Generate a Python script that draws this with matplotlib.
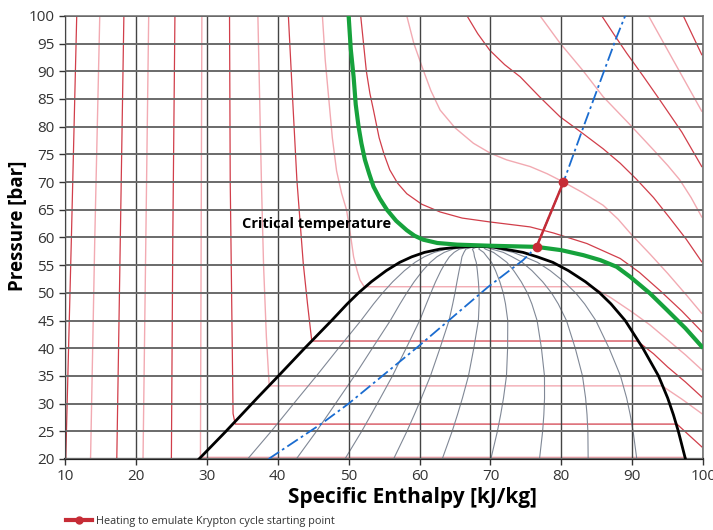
import numpy as np
import matplotlib.pyplot as plt
from matplotlib.lines import Line2D

plt.rcParams['font.family'] = ['Open Sans', 'DejaVu Sans']

# -----------------------------------------------------------------------------
# Saturation dome
# -----------------------------------------------------------------------------
p_sat = [20, 25, 28, 31, 35, 40, 45, 48, 50, 52, 54, 55.5, 56.5, 57.3, 57.9, 58.25, 58.4]
h_liq = [28.9, 32.7, 34.9, 37.1, 40.1, 43.8, 47.6, 49.8, 51.4, 53.2, 55.3, 57.2,
         58.9, 60.7, 62.9, 65.5, 68.0]
h_vap = [97.5, 96.5, 95.8, 95.0, 93.7, 91.5, 89.0, 87.0, 85.4, 83.4, 81.0, 78.8,
         76.6, 74.6, 72.0, 70.5, 68.0]
quality_levels = [0.1, 0.2, 0.3, 0.4, 0.5, 0.6, 0.7, 0.8, 0.9]

# -----------------------------------------------------------------------------
# Isotherms as (h, P) pairs, alternating dark / light red
# -----------------------------------------------------------------------------
iso_01 = [(11.65, 100), (10.9, 60), (10.1, 20)]
iso_02 = [(14.9, 100), (14.2, 60), (13.6, 20)]
iso_03 = [(18.3, 100), (17.8, 60), (17.3, 20)]
iso_04 = [(21.8, 100), (21.4, 60), (21.0, 20)]
iso_05 = [(25.5, 100), (25.2, 60), (25.0, 20)]
iso_06 = [(29.3, 100), (29.2, 60), (29.1, 20.3), (97.5, 20.3), (98.2, 19.5)]
iso_07 = [(33.2, 100), (33.3, 70), (33.7, 28.2), (34.0, 26.3), (96.3, 26.3),
          (98.0, 24.3), (99.8, 22.2)]
iso_08 = [(37.2, 100), (37.7, 70), (38.0, 55), (38.4, 42), (38.8, 33.2),
          (94.2, 33.2), (97.0, 30.8), (99.8, 28.2)]
iso_09 = [(41.5, 100), (42.1, 85), (42.7, 70.4), (43.2, 62), (43.6, 55.3),
          (44.2, 48), (44.8, 41.3), (90.7, 41.3), (93.0, 39.0), (95.0, 36.6),
          (97.5, 33.9), (99.8, 31.2)]
iso_10 = [(46.3, 100), (46.7, 92), (47.2, 85), (47.7, 78), (48.3, 72), (49.0, 68),
          (49.7, 65), (50.2, 61), (50.7, 56.5), (51.2, 54), (51.6, 52.3), (52.2, 51.1),
          (84.3, 51.1), (87.0, 49.1), (89.9, 46.6), (92.5, 44.2), (95.0, 41.5),
          (97.5, 38.8), (99.8, 36.1)]
iso_s1 = [(51.7, 100), (52.1, 95), (52.5, 90), (53.0, 86), (53.5, 83), (54.3, 78),
          (55.0, 75), (55.8, 72.2), (56.9, 69.8), (58.2, 67.9), (60.3, 66),
          (62.9, 64.6), (66.0, 63.5), (69.9, 62.8), (75.6, 61.9), (78.9, 60.8),
          (83.6, 58.9), (88.3, 56.2), (91.0, 53.7), (94.0, 50.3), (97.0, 46.7),
          (99.8, 43.0)]
iso_s2 = [(58.2, 100), (59.2, 95), (60.5, 90.3), (61.6, 86.5), (62.9, 83),
          (65.0, 79.8), (67.6, 77), (70.0, 75.2), (72.3, 74), (75.6, 72.8),
          (78.0, 71.5), (80.3, 70.0), (83.0, 68.1), (85.9, 65.8), (88.0, 63.3),
          (89.9, 60.5), (92.5, 57.0), (95.0, 53.5), (97.5, 49.8), (99.8, 46.3)]
iso_s3 = [(66.7, 100), (68.2, 96.8), (69.9, 93.8), (72.0, 91.2), (74.2, 89),
          (77.0, 85.3), (79.8, 81.8), (83.0, 78.8), (85.9, 76), (88.3, 73.4),
          (90.6, 70.5), (93.0, 67.2), (95.3, 63.5), (97.6, 59.7), (99.8, 55.6)]
iso_s4 = [(77.0, 100), (79.8, 95.1), (83.0, 90.2), (85.9, 85.4), (89.5, 80.6),
          (93.0, 75.8), (95.0, 73.0), (96.7, 70.4), (98.3, 67.2), (99.8, 63.7)]
iso_s5 = [(85.7, 100), (87.4, 96.7), (89.2, 93.3), (91.5, 89.2), (93.9, 84.8),
          (97.0, 79.0), (99.8, 72.8)]
iso_s6 = [(92.3, 100), (96.0, 91.5), (99.8, 82.8)]
iso_s7 = [(97.2, 100), (99.8, 93)]

iso_dark = [iso_01, iso_03, iso_05, iso_07, iso_09, iso_s1, iso_s3, iso_s5, iso_s7]
iso_light = [iso_02, iso_04, iso_06, iso_08, iso_10, iso_s2, iso_s4, iso_s6]

# critical isotherm (green)
iso_crit = [(50.0, 100), (50.3, 94), (50.7, 89), (51.0, 84), (51.4, 80), (51.8, 77),
            (52.3, 74), (52.9, 71.5), (53.5, 69.2), (54.4, 67), (55.4, 65),
            (56.7, 63), (58.2, 61.3), (59.3, 60.3), (60.5, 59.6), (62.5, 59.0),
            (65.3, 58.7), (70.0, 58.5), (76.5, 58.3), (80.0, 57.7), (83.1, 56.8),
            (85.5, 55.9), (87.8, 54.7), (89.7, 52.9), (92.5, 49.9), (94.9, 46.9),
            (97.5, 43.6), (99.8, 40.3)]

# isentrope through the starting point (blue dash-dot)
isentrope = [(38.7, 20), (46.2, 26.4), (50.0, 30), (59.8, 40.3), (69.7, 51.1),
             (74.6, 55.9), (76.5, 58.3), (80.3, 70.0), (83.1, 79.9), (87.8, 96.2),
             (89.0, 100)]

# heating process
heat_h = [76.5, 80.3]
heat_p = [58.3, 70.0]

# -----------------------------------------------------------------------------
# Figure
# -----------------------------------------------------------------------------
fig = plt.figure(figsize=(7.13, 5.30), dpi=100)
ax = fig.add_axes([0.0912, 0.134, 0.895, 0.836])

DARK_RED = '#d13e4a'
LIGHT_RED = '#f2aab2'

for iso in iso_dark:
    h, p = np.array(iso).T
    ax.plot(h, p, color=DARK_RED, lw=0.9, zorder=1)
for iso in iso_light:
    h, p = np.array(iso).T
    ax.plot(h, p, color=LIGHT_RED, lw=1.0, zorder=1)

# constant quality lines inside the dome
hl = np.array(h_liq)
hv = np.array(h_vap)
for q in quality_levels:
    ax.plot(hl + q * (hv - hl), p_sat, color='#808896', lw=0.8, zorder=1.2)

# dome
ax.plot(h_liq, p_sat, color='black', lw=2, zorder=3, solid_joinstyle='round')
ax.plot(h_vap, p_sat, color='black', lw=2, zorder=3, solid_joinstyle='round')

h, p = np.array(iso_crit).T
ax.plot(h, p, color='#16a23c', lw=3, zorder=3.2, solid_joinstyle='round')

h, p = np.array(isentrope).T
ax.plot(h, p, color='#1a6cd0', lw=1.3, ls=(0, (7, 2, 1.5, 2)), zorder=3.4)

ax.plot(heat_h, heat_p, color='#c62c36', lw=1.8, marker='o', ms=6, zorder=4)

ax.text(45.5, 62.4, 'Critical temperature', fontsize=10.5, fontweight='bold',
        ha='center', va='center', color='black', zorder=5)

ax.set_xlim(10, 100)
ax.set_ylim(20, 100)
ax.set_xticks(np.arange(10, 101, 10))
ax.set_yticks(np.arange(20, 101, 5))
ax.set_axisbelow(False)
ax.xaxis.grid(True, color='#444444', lw=1.0)
ax.yaxis.grid(True, color='#6a6a6a', lw=1.4)
ax.tick_params(labelsize=11, colors='#333333', length=4, width=1, direction='out')

for side in ['top', 'right']:
    ax.spines[side].set_color('#777777')
    ax.spines[side].set_linewidth(1.2)
ax.spines['left'].set_color('#333333')
ax.spines['bottom'].set_color('#222222')
ax.spines['bottom'].set_linewidth(1.6)

ax.set_xlabel('Specific Enthalpy [kJ/kg]', fontsize=15, fontweight='bold')
ax.xaxis.set_label_coords(0.544, -0.064)
ax.set_ylabel('Pressure [bar]', fontsize=13.5, fontweight='bold')
ax.yaxis.set_label_coords(-0.058, 0.526)

handle = Line2D([], [], color='#c62c36', lw=3, marker='o', ms=5)
fig.legend([handle], ['Heating to emulate Krypton cycle starting point'],
           loc='center left', bbox_to_anchor=(0.0926, 0.016), frameon=False,
           fontsize=7.8, handlelength=2.4, handletextpad=0.4,
           borderpad=0, borderaxespad=0, labelcolor='#333333')

fig.savefig('out.png', dpi=100)
